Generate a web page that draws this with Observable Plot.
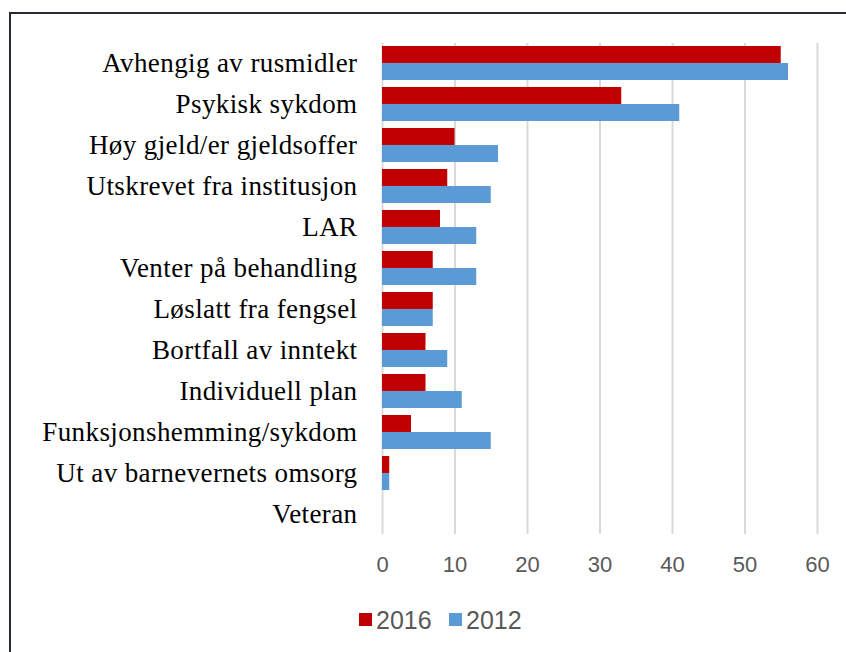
<!DOCTYPE html>
<html>
<head>
<meta charset="utf-8">
<script src="https://cdn.jsdelivr.net/npm/d3@7"></script>
<script src="https://cdn.jsdelivr.net/npm/@observablehq/plot@0.6"></script>
<style>
  html, body { margin: 0; padding: 0; background: #fff; }
  #wrap { position: relative; width: 846px; height: 652px; overflow: hidden; }
  #frame { position: absolute; left: 9px; top: 12px; width: 900px; height: 700px;
           border-left: 2px solid #262b35; border-top: 2px solid #262b35; box-sizing: border-box; }
  #chart { position: absolute; left: 0; top: 0; }
  #legend { position: absolute; top: 605px; left: 0; width: 846px; height: 30px;
            font-family: "Liberation Sans Narrow", "Liberation Sans", sans-serif; font-size: 25px; color: #595959; }
  .sw { position: absolute; top: 8px; width: 13px; height: 13px; }
  .lt { position: absolute; top: 0px; line-height: 30px; }
</style>
</head>
<body>
<div id="wrap">
  <div id="frame"></div>
  <div id="chart"></div>
  <div id="legend"></div>
</div>
<script>
const categories = [
  "Avhengig av rusmidler",
  "Psykisk sykdom",
  "Høy gjeld/er gjeldsoffer",
  "Utskrevet fra institusjon",
  "LAR",
  "Venter på behandling",
  "Løslatt fra fengsel",
  "Bortfall av inntekt",
  "Individuell plan",
  "Funksjonshemming/sykdom",
  "Ut av barnevernets omsorg",
  "Veteran"
];
const values2016 = [55, 33, 10, 9, 8, 7, 7, 6, 6, 4, 1, 0];
const values2012 = [56, 41, 16, 15, 13, 13, 7, 9, 11, 15, 1, 0];
const xTicks = [0, 10, 20, 30, 40, 50, 60];
const seriesNames = ["2016", "2012"];
const seriesColors = ["#C00000", "#5B9BD5"];

const data = categories.map((c, i) => ({category: c, v2016: values2016[i], v2012: values2012[i]}));

const W = 846, H = 652, mt = 43, mb = 118, ml = 382, mr = 29;
const padIn = 0.17, padOut = 0.07;
const step = (H - mt - mb) / (categories.length - padIn + 2 * padOut);
const bw = step * (1 - padIn);

const chart = Plot.plot({
  width: W, height: H,
  marginLeft: ml, marginRight: mr, marginTop: mt, marginBottom: mb,
  style: {background: "transparent"},
  x: {domain: [0, 60], ticks: xTicks, tickSize: 0, tickPadding: 22, label: null, tickFormat: d => String(d)},
  y: {domain: categories, paddingInner: padIn, paddingOuter: padOut, tickSize: 0, tickPadding: 25, label: null},
  marks: [
    Plot.ruleX(xTicks, {x: d => d, stroke: "#d9d9d9", strokeWidth: 2}),
    Plot.barX(data, {x: "v2016", y: "category", fill: seriesColors[0], insetBottom: bw / 2}),
    Plot.barX(data, {x: "v2012", y: "category", fill: seriesColors[1], insetTop: bw / 2})
  ]
});

const svg = d3.select(chart);
svg.selectAll('[aria-label^="y-axis"] text')
  .attr("font-family", "'Liberation Serif', serif")
  .attr("font-size", 27)
  .attr("fill", "#000")
  .style("letter-spacing", "0.4px");
svg.selectAll('[aria-label^="x-axis"] text')
  .attr("font-family", "'Liberation Sans', sans-serif")
  .attr("font-size", 22)
  .attr("fill", "#595959");
svg.selectAll('[aria-label^="y-axis"] path, [aria-label^="x-axis"] path').remove();

document.getElementById("chart").appendChild(chart);

const legend = document.getElementById("legend");
const legendPos = [{sw: 359, t: 376}, {sw: 449, t: 466}];
seriesNames.forEach((name, i) => {
  const s = document.createElement("div");
  s.className = "sw";
  s.style.left = legendPos[i].sw + "px";
  s.style.background = seriesColors[i];
  legend.appendChild(s);
  const t = document.createElement("div");
  t.className = "lt";
  t.style.left = legendPos[i].t + "px";
  t.textContent = name;
  legend.appendChild(t);
});
</script>
</body>
</html>
